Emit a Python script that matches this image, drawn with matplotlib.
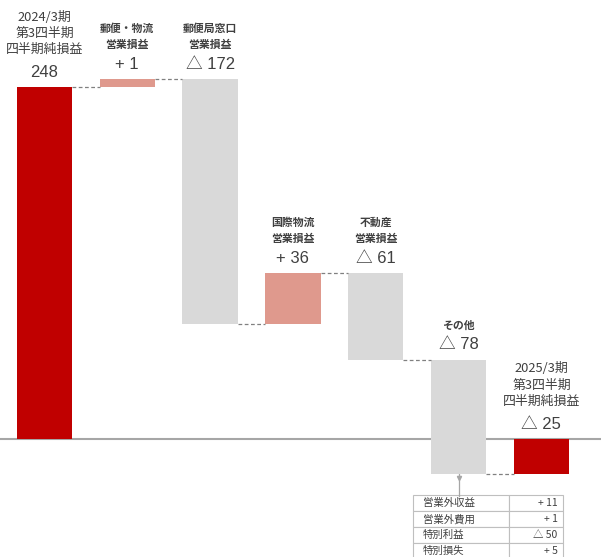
import numpy as np
import matplotlib
matplotlib.use('Agg')
import matplotlib.pyplot as plt

plt.rcParams['font.family'] = ['Noto Sans CJK JP', 'DejaVu Sans']

# data
categories = ['2024/3期\n第3四半期\n四半期純損益',
              '郵便・物流\n営業損益',
              '郵便局窓口\n営業損益',
              '国際物流\n営業損益',
              '不動産\n営業損益',
              'その他',
              '2025/3期\n第3四半期\n四半期純損益']
# running level after each step, as drawn in the picture
levels = [248, 254, 81, 117, 56, -25]
value_labels = ['248', '+ 1', '△ 172', '+ 36', '△ 61', '△ 78', '△ 25']

table_items = ['営業外収益', '営業外費用', '特別利益', '特別損失']
table_values = ['+ 11', '+ 1', '△ 50', '+ 5']

RED = '#C00000'
PINK = '#DF998D'
GRAY = '#D9D9D9'
LINE = '#A6A6A6'
TXT = '#404040'

# bars: start, steps, end
bottoms = [0]
heights = [levels[0]]
colors = [RED]
for prev, cur in zip(levels[:-1], levels[1:]):
    bottoms.append(min(prev, cur))
    heights.append(abs(cur - prev))
    colors.append(PINK if cur > prev else GRAY)
bottoms.append(min(0, levels[-1]))
heights.append(abs(levels[-1]))
colors.append(RED)

fig = plt.figure(figsize=(6.01, 5.57), dpi=100)
ax = fig.add_axes([0, 0, 1, 1])
ax.set_xlim(-0.537, 6.72)
ax.set_ylim(-83.2, 309.4)
ax.axis('off')

x = np.arange(len(categories))
w = 0.67
ax.bar(x, heights, bottom=bottoms, width=w, color=colors, zorder=2)

# zero line
ax.axhline(0, color=LINE, lw=1.5, zorder=1)

# connectors
for i in range(len(categories) - 1):
    ax.plot([x[i] + w / 2, x[i + 1] - w / 2], [levels[i], levels[i]],
            ls=(0, (3, 2)), color='#808080', lw=0.9, zorder=3)

# labels
for i, cat in enumerate(categories):
    top = bottoms[i] + heights[i]
    big = i in (0, len(categories) - 1)
    ax.annotate(value_labels[i], (x[i], top), xytext=(0, 10.5),
                textcoords='offset points', ha='center', va='center',
                fontsize=12, color=TXT,
                family=['Liberation Sans', 'Noto Sans CJK JP'])
    lines = cat.split('\n')
    base = 27.4 if big else 24.5
    for j, ln in enumerate(reversed(lines)):
        ax.annotate(ln, (x[i], top), xytext=(0, base + j * 11.5),
                    textcoords='offset points', ha='center', va='center',
                    fontsize=9.3 if big else 7.8, color=TXT,
                    fontweight='normal' if big else 'bold')

# link from その他 to table
other_bottom = bottoms[5]
ax.plot([x[5], x[5]], [other_bottom, -40], color=LINE, lw=0.9, zorder=1)
ax.plot([x[5]], [other_bottom - 2.5], marker='v', ms=3, color=LINE)

# detail table
tb = ax.table(cellText=[[a, b] for a, b in zip(table_items, table_values)],
              colWidths=[0.16, 0.09], cellLoc='left',
              bbox=[413 / 601, 1 - 559 / 557, 150 / 601, 64 / 557])
tb.auto_set_font_size(False)
for (r, c), cell in tb.get_celld().items():
    cell.set_edgecolor('#BFBFBF')
    cell.set_linewidth(0.8)
    cell.get_text().set_fontsize(7.5)
    cell.get_text().set_color(TXT)
    if c == 1:
        cell.get_text().set_ha('right')
        cell._loc = 'right'

fig.savefig('out.png', dpi=100)
